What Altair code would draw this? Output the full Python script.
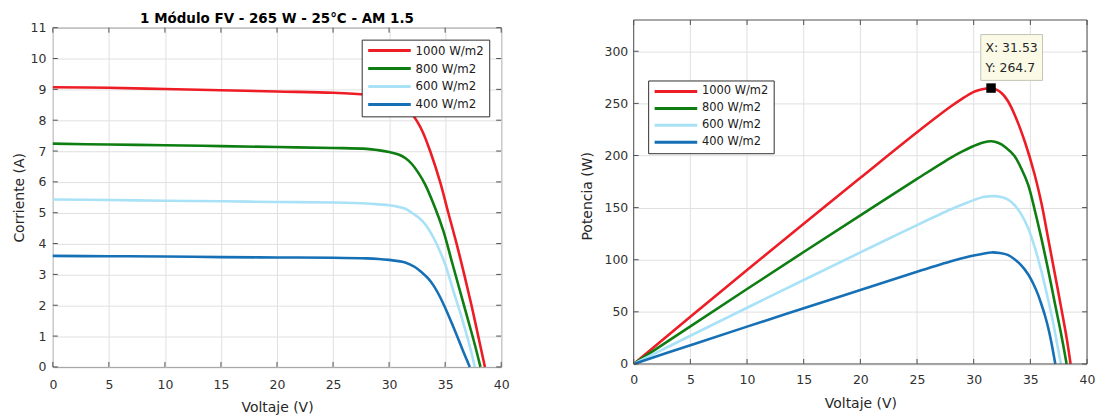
import altair as alt
import pandas as pd

SERIES = ["1000 W/m2", "800 W/m2", "600 W/m2", "400 W/m2"]
COLORS = ["#ee1c25", "#0e7d12", "#a9e2f7", "#1670b5"]
TITLE = "1 Módulo FV - 265 W - 25°C - AM 1.5"
X_TICKS = [0, 5, 10, 15, 20, 25, 30, 35, 40]
I_TICKS = [0, 1, 2, 3, 4, 5, 6, 7, 8, 9, 10, 11]
P_TICKS = [0, 50, 100, 150, 200, 250, 300]
V_MAX = 40
I_MAX = 11
P_MAX = 330
MPP_V = 31.53
MPP_P = 264.7

# ---- I-V curves (left panel) ----
IV_V_1000 = [0, 5, 10, 15, 20, 25, 28, 29, 30, 30.5, 31, 31.5, 32, 32.5, 33, 33.66, 34.55, 35.28, 36.02, 36.7, 37.35, 37.95, 38.55]
IV_I_1000 = [9.07, 9.05, 9.01, 8.97, 8.93, 8.89, 8.83, 8.78, 8.70, 8.62, 8.52, 8.40, 8.22, 7.96, 7.62, 7.0, 6.0, 5.0, 4.0, 3.0, 2.0, 1.0, 0.0]
IV_V_800 = [0, 5, 10, 15, 20, 25, 28, 29, 30, 30.84, 31.5, 32.03, 32.6, 33.21, 34.1, 34.84, 35.58, 36.32, 37.06, 37.65, 38.15]
IV_I_800 = [7.24, 7.21, 7.19, 7.16, 7.13, 7.10, 7.07, 7.03, 6.97, 6.89, 6.76, 6.58, 6.30, 5.92, 5.16, 4.41, 3.44, 2.47, 1.50, 0.72, 0.0]
IV_V_600 = [0, 5, 10, 15, 20, 25, 28, 29.07, 30, 30.84, 31.5, 32.03, 32.6, 33.21, 33.7, 34.25, 35.0, 35.73, 36.47, 37.06, 37.65]
IV_I_600 = [5.43, 5.41, 5.39, 5.37, 5.35, 5.33, 5.30, 5.27, 5.24, 5.19, 5.12, 5.0, 4.85, 4.63, 4.36, 3.98, 3.33, 2.47, 1.61, 0.86, 0.0]
IV_V_400 = [0, 5, 10, 15, 20, 25, 28, 29.07, 30, 30.84, 31.5, 32.3, 32.9, 33.5, 34.0, 34.5, 35.0, 35.5, 36.0, 36.6, 37.2]
IV_I_400 = [3.60, 3.59, 3.58, 3.56, 3.55, 3.54, 3.52, 3.50, 3.47, 3.43, 3.38, 3.24, 3.07, 2.86, 2.62, 2.30, 1.92, 1.50, 1.06, 0.52, 0.0]

# ---- P-V curves (right panel) ----
PV_V_1000 = [0, 5, 10, 15, 20, 25, 28, 29, 30, 30.5, 31, 31.53, 32, 32.5, 33, 33.66, 34.55, 35.37, 36.02, 36.54, 37.1, 37.7, 38.2, 38.55]
PV_P_1000 = [0, 45.3, 90.1, 134.6, 178.6, 222.3, 247.2, 254.6, 261, 262.9, 264.1, 264.7, 263.2, 259.5, 252.5, 238, 212, 182, 152, 122, 90, 55, 25, 0]
PV_V_800 = [0, 5, 10, 15, 20, 25, 28, 29, 30, 30.84, 31.56, 32.2, 32.8, 33.6, 34.2, 34.8, 35.4, 35.96, 36.5, 37.13, 37.71, 38.2]
PV_P_800 = [0, 36.05, 71.9, 107.4, 142.6, 177.5, 198, 203.9, 209.1, 212.5, 213.7, 212, 208, 199.5, 187.5, 172, 147, 121, 94, 60, 29, 0]
PV_V_600 = [0, 5, 10, 15, 20, 25, 28, 29.07, 30, 30.84, 31.7, 32.5, 33.0, 33.6, 34.2, 34.8, 35.37, 35.95, 36.54, 37.0, 37.4, 37.7]
PV_P_600 = [0, 27.05, 53.9, 80.55, 107, 133.25, 148.4, 153.2, 157.2, 160.1, 161, 160, 158, 152.5, 143.5, 130.5, 112.5, 90, 63, 40, 17, 0]
PV_V_400 = [0, 5, 10, 15, 20, 25, 28, 29.07, 30, 30.84, 31.56, 32.3, 33.0, 33.6, 34.2, 34.8, 35.3, 35.66, 35.95, 36.3, 36.6, 36.9, 37.2]
PV_P_400 = [0, 17.95, 35.8, 53.4, 71, 88.5, 98.6, 101.7, 104.1, 105.8, 107, 106.4, 104.6, 100.5, 94.5, 86, 76, 67, 58, 46, 33.5, 18, 0]

FONT = "DejaVu Sans"
FRAME = "#505050"
GRID = "#e0e0e0"
TXT = "#303030"

# plot-area sizes (pixels)
W_L, H_L = 450, 340.5
W_R, H_R_FULL = 455, 345.2
H_R = 337.5  # right view shares its top with the left one; the top strip is drawn above it


def long_df(triples, ycol):
    rows = []
    for s, vs, ys in triples:
        for v, y in zip(vs, ys):
            rows.append({"series": s, "V": v, ycol: y})
    return pd.DataFrame(rows)


iv = long_df([(SERIES[0], IV_V_1000, IV_I_1000), (SERIES[1], IV_V_800, IV_I_800),
              (SERIES[2], IV_V_600, IV_I_600), (SERIES[3], IV_V_400, IV_I_400)], "I")
pv = long_df([(SERIES[0], PV_V_1000, PV_P_1000), (SERIES[1], PV_V_800, PV_P_800),
              (SERIES[2], PV_V_600, PV_P_600), (SERIES[3], PV_V_400, PV_P_400)], "P")


def legend(lx, ly, fs):
    return alt.Legend(orient="none", legendX=lx, legendY=ly, title=None,
                      symbolType="M-1,0H8.5", symbolSize=81, symbolStrokeWidth=3,
                      labelOffset=37, labelFont=FONT, labelFontSize=fs,
                      labelColor="#202020", fillColor="white", strokeColor="#303030",
                      padding=5, rowPadding=5)


def color_enc(lx, ly, fs):
    return alt.Color("series:N", scale=alt.Scale(domain=SERIES, range=COLORS), legend=legend(lx, ly, fs))


# ================= left panel =================
xsL = alt.Scale(domain=[0, V_MAX], nice=False, zero=False)
ysL = alt.Scale(domain=[0, I_MAX], nice=False, zero=False)
xL = alt.X("V:Q", scale=xsL, axis=alt.Axis(values=X_TICKS, title="Voltaje (V)", labelPadding=12,
                                            titlePadding=9, grid=True, ticks=False, domain=False,
                                            labelFlush=False))
yL = alt.Y("I:Q", scale=ysL, axis=alt.Axis(values=I_TICKS, title="Corriente (A)", labelPadding=7,
                                            titlePadding=4, grid=True, ticks=False, domain=False,
                                            labelFlush=False))
linesL = alt.Chart(iv).mark_line(strokeWidth=2.6, interpolate="catmull-rom").encode(
    x=xL, y=yL, color=color_enc(310, 12, 11.8))
xtL = pd.DataFrame({"V": X_TICKS})
ytL = pd.DataFrame({"I": I_TICKS})
tkL = [
    alt.Chart(xtL).mark_rule(color=FRAME).encode(x=xL, y=alt.value(H_L), y2=alt.value(H_L - 5)),
    alt.Chart(xtL).mark_rule(color=FRAME).encode(x=xL, y=alt.value(0), y2=alt.value(5)),
    alt.Chart(ytL).mark_rule(color=FRAME).encode(y=yL, x=alt.value(0), x2=alt.value(5)),
    alt.Chart(ytL).mark_rule(color=FRAME).encode(y=yL, x=alt.value(W_L - 5), x2=alt.value(W_L)),
]
titleL = alt.Chart(pd.DataFrame({"t": [TITLE]})).mark_text(
    font=FONT, fontSize=13.5, fontWeight="bold", color="#000000", align="center",
    baseline="alphabetic").encode(text="t:N", x=alt.value(W_L / 2), y=alt.value(-5))
left = alt.layer(linesL, *tkL, titleL).properties(width=W_L, height=H_L)

# ================= right panel =================
xsR = alt.Scale(domain=[0, V_MAX], nice=False, zero=False)
ysR = alt.Scale(domain=[0, P_MAX * H_R / H_R_FULL], nice=False, zero=False)
xR = alt.X("V:Q", scale=xsR, axis=alt.Axis(values=X_TICKS, title="Voltaje (V)", labelPadding=10,
                                            titlePadding=10, grid=False, ticks=False, domain=False,
                                            labelFlush=False))
yR = alt.Y("P:Q", scale=ysR, axis=alt.Axis(values=P_TICKS, title="Potencia (W)", labelPadding=6,
                                            titlePadding=9, grid=True, ticks=False, domain=False,
                                            labelFlush=False))
gridR = alt.Chart(pd.DataFrame({"V": X_TICKS, "P": [0] * len(X_TICKS), "P2": [P_MAX] * len(X_TICKS)})
                  ).mark_rule(color=GRID).encode(x=xR, y=yR, y2=alt.Y2("P2"))
linesR = alt.Chart(pv).mark_line(strokeWidth=2.6, interpolate="catmull-rom").encode(
    x=xR, y=yR, color=color_enc(14.5, 53, 11.5))
frameH = alt.Chart(pd.DataFrame({"V": [0, 0], "V2": [V_MAX, V_MAX], "P": [0, P_MAX]})
                   ).mark_rule(color=FRAME).encode(x=xR, x2=alt.X2("V2"), y=yR)
frameV = alt.Chart(pd.DataFrame({"V": [0, V_MAX], "P": [0, 0], "P2": [P_MAX, P_MAX]})
                   ).mark_rule(color=FRAME).encode(x=xR, y=yR, y2=alt.Y2("P2"))
tkR = [
    alt.Chart(pd.DataFrame({"V": X_TICKS, "P": [0] * len(X_TICKS)})).mark_rule(
        color=FRAME, y2Offset=-5).encode(x=xR, y=yR, y2=alt.Y2("P")),
    alt.Chart(pd.DataFrame({"V": X_TICKS, "P": [P_MAX] * len(X_TICKS)})).mark_rule(
        color=FRAME, y2Offset=5).encode(x=xR, y=yR, y2=alt.Y2("P")),
    alt.Chart(pd.DataFrame({"P": P_TICKS})).mark_rule(color=FRAME).encode(
        y=yR, x=alt.value(0), x2=alt.value(5)),
    alt.Chart(pd.DataFrame({"P": P_TICKS})).mark_rule(color=FRAME).encode(
        y=yR, x=alt.value(W_R - 5), x2=alt.value(W_R)),
]
mpp = pd.DataFrame({"V": [MPP_V], "P": [MPP_P], "tx": [f"X: {MPP_V}"], "ty": [f"Y: {MPP_P}"]})
tip_box = alt.Chart(mpp).mark_rect(width=62, height=46, xOffset=20.7, yOffset=-30.7, fill="#fafae6",
                                   stroke="#c4c4b4", strokeWidth=1).encode(x=xR, y=yR)
tip_pt = alt.Chart(mpp).mark_square(size=90, color="black", opacity=1, filled=True).encode(x=xR, y=yR)
tip_t1 = alt.Chart(mpp).mark_text(align="left", baseline="middle", dx=-5.6, dy=-40, font=FONT,
                                  fontSize=12.5, color="#262626").encode(x=xR, y=yR, text="tx:N")
tip_t2 = alt.Chart(mpp).mark_text(align="left", baseline="middle", dx=-5.6, dy=-20, font=FONT,
                                  fontSize=12.5, color="#262626").encode(x=xR, y=yR, text="ty:N")

right = alt.layer(gridR, linesR, frameH, frameV, *tkR, tip_box, tip_pt, tip_t1, tip_t2).properties(
    width=W_R, height=H_R, view=alt.ViewBackground(stroke="transparent"))

chart = alt.hconcat(left, right, spacing=70).resolve_scale(color="independent").resolve_legend(
    color="independent").properties(
    padding={"left": 3, "top": 2, "right": 0, "bottom": 0}, background="white"
).configure_view(stroke=FRAME, strokeWidth=1).configure_axis(
    labelFont=FONT, labelFontSize=12.5, labelColor=TXT, titleFont=FONT, titleFontSize=14,
    titleFontWeight="normal", titleColor="#262626", gridColor=GRID, gridWidth=1)

chart.save("out.html", embed_options={"renderer": "svg", "actions": False})
